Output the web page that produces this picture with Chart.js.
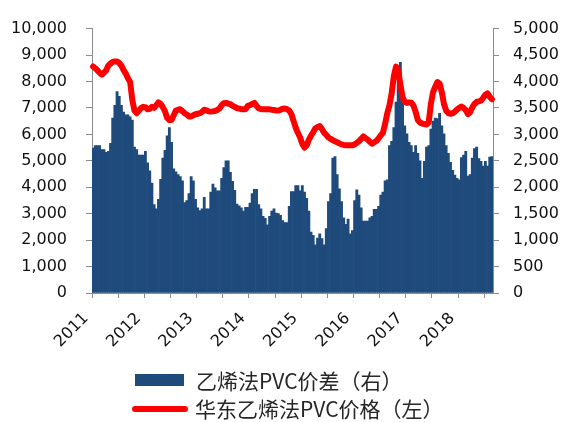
<!DOCTYPE html>
<html>
<head>
<meta charset="utf-8">
<script src="https://cdn.jsdelivr.net/npm/chart.js@4/dist/chart.umd.min.js"></script>
<style>
  html, body { margin: 0; padding: 0; background: #fff; }
  #wrap { position: relative; width: 571px; height: 422px; overflow: hidden; }
  #c { position: absolute; left: 0; top: 0; }
  .lg-text { position: absolute; font-family: "Noto Sans CJK SC", sans-serif; font-size: 21px; line-height: 26px; color: #262626; white-space: nowrap; }
  .lg-box { position: absolute; background: #1F4A7C; }
  .lg-line { position: absolute; background: #FF0000; border-radius: 3px; }
</style>
</head>
<body>
<div id="wrap">
  <canvas id="c" width="571" height="422"></canvas>
  <div class="lg-box" style="left:135px; top:374px; width:49px; height:12px;"></div>
  <div class="lg-text" id="lg1" style="left:196px; top:367px;"></div>
  <div class="lg-line" style="left:132px; top:406px; width:56px; height:6px;"></div>
  <div class="lg-text" id="lg2" style="left:195px; top:395px;"></div>
</div>
<script>
// Series names
const spreadName = '乙烯法PVC价差（右）';
const priceName = '华东乙烯法PVC价格（左）';

// Year labels on the time axis (one every 24 half-month periods)
const yearLabels = ['2011', '2012', '2013', '2014', '2015', '2016', '2017', '2018'];

// Ethylene-route PVC spread, yuan/t (right axis), half-monthly from Jan 2011
const spread = [
  2740, 2790, 2790, 2790, 2710, 2710, 2660, 2680, 2830, 3310,
  3550, 3810, 3720, 3550, 3420, 3370, 3370, 3330, 3270, 2760,
  2710, 2610, 2610, 2610, 2680, 2460, 2310, 2080, 1670, 1590,
  1770, 2150, 2550, 2700, 2970, 3130, 2850, 2350, 2290, 2240,
  2200, 2120, 1710, 1750, 1880, 2200, 2120, 1770, 1610, 1560,
  1590, 1810, 1590, 1590, 1910, 2060, 1990, 1930, 1930, 2170,
  2370, 2500, 2500, 2280, 2110, 1940, 1680, 1650, 1610, 1550,
  1620, 1620, 1700, 1880, 1960, 1960, 1670, 1590, 1450, 1410,
  1290, 1450, 1550, 1590, 1510, 1500, 1470, 1370, 1330, 1330,
  1640, 1920, 1920, 2030, 2030, 1930, 2030, 1910, 1790, 1550,
  1150, 1090, 910, 1040, 1120, 1030, 910, 1220, 1730, 1880,
  2550, 2580, 2240, 1970, 1730, 1420, 1300, 1400, 1120, 1180,
  1750, 1950, 1850, 1610, 1360, 1360, 1360, 1420, 1450, 1580,
  1580, 1640, 1850, 1910, 2120, 2140, 2790, 2870, 3130, 3610,
  4040, 4360, 3640, 3160, 3010, 2850, 2790, 2660, 2790, 2640,
  2500, 2170, 2490, 2760, 2790, 3100, 3250, 3310, 3300, 3400,
  3160, 3010, 2790, 2640, 2470, 2320, 2230, 2170, 2140, 2560,
  2610, 2680, 2210, 2240, 2550, 2730, 2760, 2540, 2490, 2400,
  2490, 2400, 2570, 2580
];

// East China ethylene-route PVC price, yuan/t (left axis)
const price = [
  8565, 8500, 8420, 8330, 8260, 8330, 8420, 8600, 8680, 8740,
  8760, 8760, 8700, 8600, 8430, 8300, 8120, 7980, 7300, 6900,
  6800, 6900, 6990, 7040, 7030, 6950, 6970, 7040, 7000, 7100,
  7210, 7150, 7030, 6870, 6620, 6540, 6540, 6720, 6900, 6930,
  6950, 6880, 6800, 6750, 6680, 6680, 6720, 6760, 6780, 6800,
  6850, 6930, 6910, 6870, 6860, 6870, 6890, 6920, 6980, 7100,
  7180, 7190, 7160, 7140, 7080, 7040, 6990, 6980, 6950, 6950,
  6950, 7080, 7105, 7150, 7190, 7080, 6980, 6960, 6945, 6945,
  6945, 6945, 6930, 6920, 6905, 6898, 6930, 6970, 6975, 6950,
  6900, 6760, 6500, 6250, 6050, 5880, 5640, 5500, 5580, 5800,
  5950, 6080, 6230, 6280, 6310, 6200, 6060, 5980, 5880, 5830,
  5780, 5740, 5700, 5660, 5620, 5600, 5584, 5584, 5584, 5584,
  5620, 5680, 5740, 5830, 5925, 5860, 5800, 5720, 5650, 5700,
  5750, 5850, 5960, 6060, 6400, 6800, 7100, 7550, 8200, 8560,
  8400, 7900, 7400, 7240, 7190, 7210, 7200, 7090, 6850, 6540,
  6450, 6410, 6390, 6375, 6450, 7150, 7600, 7800, 7980, 7920,
  7600, 7150, 6900, 6800, 6780, 6800, 6860, 6940, 7000, 7050,
  7000, 6920, 6770, 6830, 7020, 7150, 7226, 7250, 7280, 7384,
  7500, 7550, 7420, 7330
];

// Half-month period labels, 2011-01 first half onwards
const periods = [];
for (let k = 0; k < spread.length; k++) {
  const y = 2011 + Math.floor(k / 24);
  const m = Math.floor((k % 24) / 2) + 1;
  periods.push(y + '-' + String(m).padStart(2, '0') + (k % 2 === 0 ? '上' : '下'));
}

document.getElementById('lg1').textContent = spreadName;
document.getElementById('lg2').textContent = priceName;

const axisGray = '#8C8C8C';
const tickColor = '#111';
Chart.defaults.font.family = '"DejaVu Sans", sans-serif';
Chart.defaults.font.size = 16;

new Chart(document.getElementById('c'), {
  data: {
    labels: periods,
    datasets: [
      {
        type: 'line',
        label: priceName,
        data: price,
        yAxisID: 'y',
        borderColor: '#FF0000',
        borderWidth: 6,
        pointRadius: 0,
        tension: 0,
        borderJoinStyle: 'round',
        borderCapStyle: 'round',
        order: 0
      },
      {
        type: 'bar',
        label: spreadName,
        data: spread,
        yAxisID: 'y1',
        backgroundColor: '#1F4A7C',
        borderWidth: 0,
        barPercentage: 1,
        categoryPercentage: 1,
        order: 1
      }
    ]
  },
  options: {
    responsive: false,
    animation: false,
    layout: { padding: { top: 18, right: 0, bottom: 0, left: 0 } },
    plugins: { legend: { display: false }, tooltip: { enabled: false } },
    scales: {
      x: {
        type: 'category',
        offset: true,
        grid: {
          display: true,
          offset: true,
          drawOnChartArea: false,
          drawTicks: true,
          tickLength: 5,
          color: (ctx) => (ctx.index % 12 === 0 ? axisGray : 'rgba(0,0,0,0)')
        },
        border: { display: true, color: axisGray, width: 1 },
        ticks: {
          autoSkip: false,
          maxRotation: 45,
          minRotation: 45,
          padding: 11,
          labelOffset: -7,
          color: tickColor,
          callback: (v, i) => (i % 24 === 0 ? yearLabels[i / 24] : '')
        },
        afterFit: (s) => { s.height = 129; }
      },
      y: {
        position: 'left',
        min: 0,
        max: 10000,
        ticks: { stepSize: 1000, padding: 19, color: tickColor },
        grid: { drawOnChartArea: false, drawTicks: true, tickLength: 6, color: axisGray },
        border: { display: true, color: axisGray, width: 1 },
        afterFit: (s) => { s.width = 92; }
      },
      y1: {
        position: 'right',
        min: 0,
        max: 5000,
        ticks: { stepSize: 500, padding: 14, color: tickColor },
        grid: { drawOnChartArea: false, drawTicks: true, tickLength: 6, color: axisGray },
        border: { display: true, color: axisGray, width: 1 },
        afterFit: (s) => { s.width = 78; }
      }
    }
  }
});
</script>
</body>
</html>
